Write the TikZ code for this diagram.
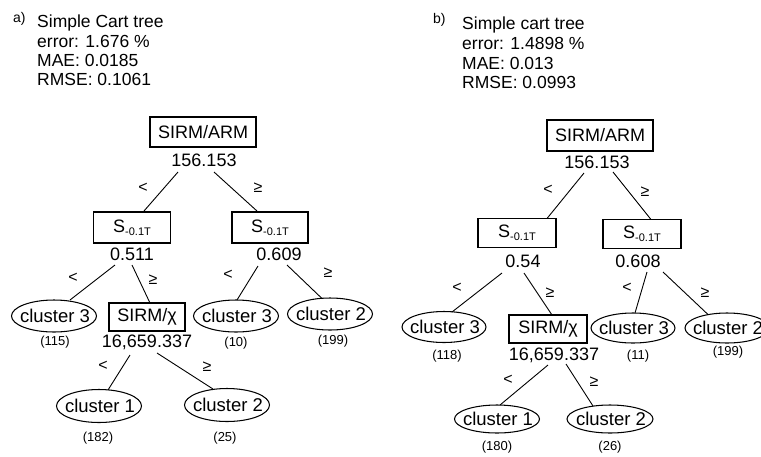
\documentclass[tikz,border=0pt]{standalone}
\usepackage{fontspec}
\setmainfont{Liberation Sans}
\usetikzlibrary{shapes.geometric}
\newcommand\Ssub{S\raisebox{-0.35ex}{\fontsize{11}{11}\selectfont -0.1T}}
\newcommand\cl[1]{\makebox[0pt]{\kern2pt #1}}
\begin{document}
\begin{tikzpicture}[x=1pt,y=-1pt,
  bx/.style={draw, line width=1.05pt, inner sep=0pt, font=\fontsize{18}{20}\selectfont},
  val/.style={inner sep=0pt, font=\fontsize{18}{20}\selectfont},
  clu/.style={draw, ellipse, line width=1.05pt, inner sep=0pt, minimum width=85, minimum height=32, font=\fontsize{18.5}{20}\selectfont},
  cnt/.style={inner sep=0pt, font=\fontsize{13}{15}\selectfont},
  lab/.style={inner sep=0pt, font=\fontsize{16}{18}\selectfont},
  hd/.style={inner sep=0pt, anchor=base west, font=\fontsize{17.5}{20}\selectfont},
  tag/.style={inner sep=0pt, anchor=base west, font=\fontsize{14}{16}\selectfont},
  conn/.style={line width=0.9pt}]
\useasboundingbox (0,0) rectangle (761,456);

% ---------------- panel a ----------------
\node[tag] (taga) at (13,22) {a)};
\node[hd] (ha1) at (37,27) {Simple Cart tree};
\node[hd] (ha2) at (37,47) {error: 1.676 \%};
\node[hd] (ha3) at (37,66) {MAE: 0.0185};
\node[hd] (ha4) at (37,85.5) {RMSE: 0.1061};

\node[bx, minimum width=106, minimum height=30] (ra) at (203,132) {SIRM/ARM};
\node[val] (va) at (204,160) {156.153};
\node[bx, minimum width=77, minimum height=31] (sla) at (132,227.5) {\Ssub};
\node[val] (vla) at (132,254) {0.511};
\node[bx, minimum width=76, minimum height=31] (sra) at (270,227.5) {\Ssub};
\node[val] (vra) at (279,254) {0.609};
\node[clu] (c3a) at (54,316) {\cl{cluster 3}};
\node[cnt] (n3a) at (55,342) {(115)};
\node[bx, minimum width=76, minimum height=28] (xa) at (147,317) {SIRM/χ};
\node[val] (xva) at (147,342) {16,659.337};
\node[clu] (c3ra) at (236,316) {\cl{cluster 3}};
\node[cnt] (n3ra) at (236,343) {(10)};
\node[clu] (c2ra) at (330,314) {\cl{cluster 2}};
\node[cnt] (n2ra) at (333,341) {(199)};
\node[clu, minimum height=33] (c1a) at (99,406) {\cl{cluster 1}};
\node[cnt] (n1a) at (98,438) {(182)};
\node[clu, minimum height=33] (c2a) at (227,405) {\cl{cluster 2}};
\node[cnt] (n2a) at (225,438) {(25)};

\draw[conn] ([shift={(-26,12)}]va.center) -- ([shift={(12,-16.5)}]sla.center);
\draw[conn] ([shift={(10,12)}]va.center) -- ([shift={(-13,-16.5)}]sra.center);
\draw[conn] ([shift={(-17,11)}]vla.center) -- ([shift={(16,-16)}]c3a.center);
\draw[conn] ([shift={(0,11)}]vla.center) -- ([shift={(3,-14)}]xa.center);
\draw[conn] ([shift={(-21,12)}]vra.center) -- ([shift={(1,-16)}]c3ra.center);
\draw[conn] ([shift={(8,11)}]vra.center) -- ([shift={(-8,-15.5)}]c2ra.center);
\draw[conn] ([shift={(-17,13)}]xva.center) -- ([shift={(9,-16)}]c1a.center);
\draw[conn] ([shift={(10,11)}]xva.center) -- ([shift={(-14,-16)}]c2a.center);

\node[lab] (la1) at (143,188) {<};
\node[lab] (la2) at (258,188) {≥};
\node[lab] (la3) at (73,278) {<};
\node[lab] (la4) at (153,280) {≥};
\node[lab] (la5) at (228,275) {<};
\node[lab] (la6) at (328,273) {≥};
\node[lab] (la7) at (103,366) {<};
\node[lab] (la8) at (207,367) {≥};

% ---------------- panel b ----------------
\node[tag] (tagb) at (433,23) {b)};
\node[hd] (hb1) at (462,29) {Simple cart tree};
\node[hd] (hb2) at (462,49) {error: 1.4898 \%};
\node[hd] (hb3) at (462,69) {MAE: 0.013};
\node[hd] (hb4) at (462,88) {RMSE: 0.0993};

\node[bx, minimum width=106, minimum height=31] (rb) at (600,135.5) {SIRM/ARM};
\node[val] (vb) at (597,162) {156.153};
\node[bx, minimum width=78, minimum height=29] (slb) at (517,233) {\Ssub};
\node[val] (vlb) at (523,261) {0.54};
\node[bx, minimum width=78, minimum height=29] (srb) at (642,234) {\Ssub};
\node[val] (vrb) at (638,261) {0.608};
\node[clu, minimum width=84, minimum height=31] (c3b) at (444,327) {\cl{cluster 3}};
\node[cnt] (n3b) at (447,356) {(118)};
\node[bx, minimum width=78, minimum height=28] (xb) at (548,329) {SIRM/χ};
\node[val] (xvb) at (554,355) {16,659.337};
\node[clu, minimum width=84, minimum height=30] (c3rb) at (633,328) {\cl{cluster 3}};
\node[cnt] (n3rb) at (638,356) {(11)};
\node[clu, minimum width=84, minimum height=30] (c2rb) at (727,328) {\cl{cluster 2}};
\node[cnt] (n2rb) at (728,352) {(199)};
\node[clu, minimum height=28] (c1b) at (497,419) {\cl{cluster 1}};
\node[cnt] (n1b) at (497,447) {(180)};
\node[clu, minimum width=86, minimum height=28] (c2b) at (610,419) {\cl{cluster 2}};
\node[cnt] (n2b) at (610,447) {(26)};

\draw[conn] ([shift={(-13,11)}]vb.center) -- ([shift={(30,-14.5)}]slb.center);
\draw[conn] ([shift={(16,10)}]vb.center) -- ([shift={(9,-14.5)}]srb.center);
\draw[conn] ([shift={(-21,12)}]vlb.center) -- ([shift={(8,-15)}]c3b.center);
\draw[conn] ([shift={(1,12)}]vlb.center) -- ([shift={(4,-14)}]xb.center);
\draw[conn] ([shift={(9,11)}]vrb.center) -- ([shift={(2,-15)}]c3rb.center);
\draw[conn] ([shift={(25,11)}]vrb.center) -- ([shift={(-19,-13.5)}]c2rb.center);
\draw[conn] ([shift={(-6,10)}]xvb.center) -- ([shift={(3,-14)}]c1b.center);
\draw[conn] ([shift={(12,9)}]xvb.center) -- ([shift={(-17,-13)}]c2b.center);

\node[lab] (lb1) at (548,190) {<};
\node[lab] (lb2) at (645,192) {≥};
\node[lab] (lb3) at (457,288) {<};
\node[lab] (lb4) at (550,293) {≥};
\node[lab] (lb5) at (627,288) {<};
\node[lab] (lb6) at (705,293) {≥};
\node[lab] (lb7) at (508,380) {<};
\node[lab] (lb8) at (594,382) {≥};
\end{tikzpicture}
\end{document}
